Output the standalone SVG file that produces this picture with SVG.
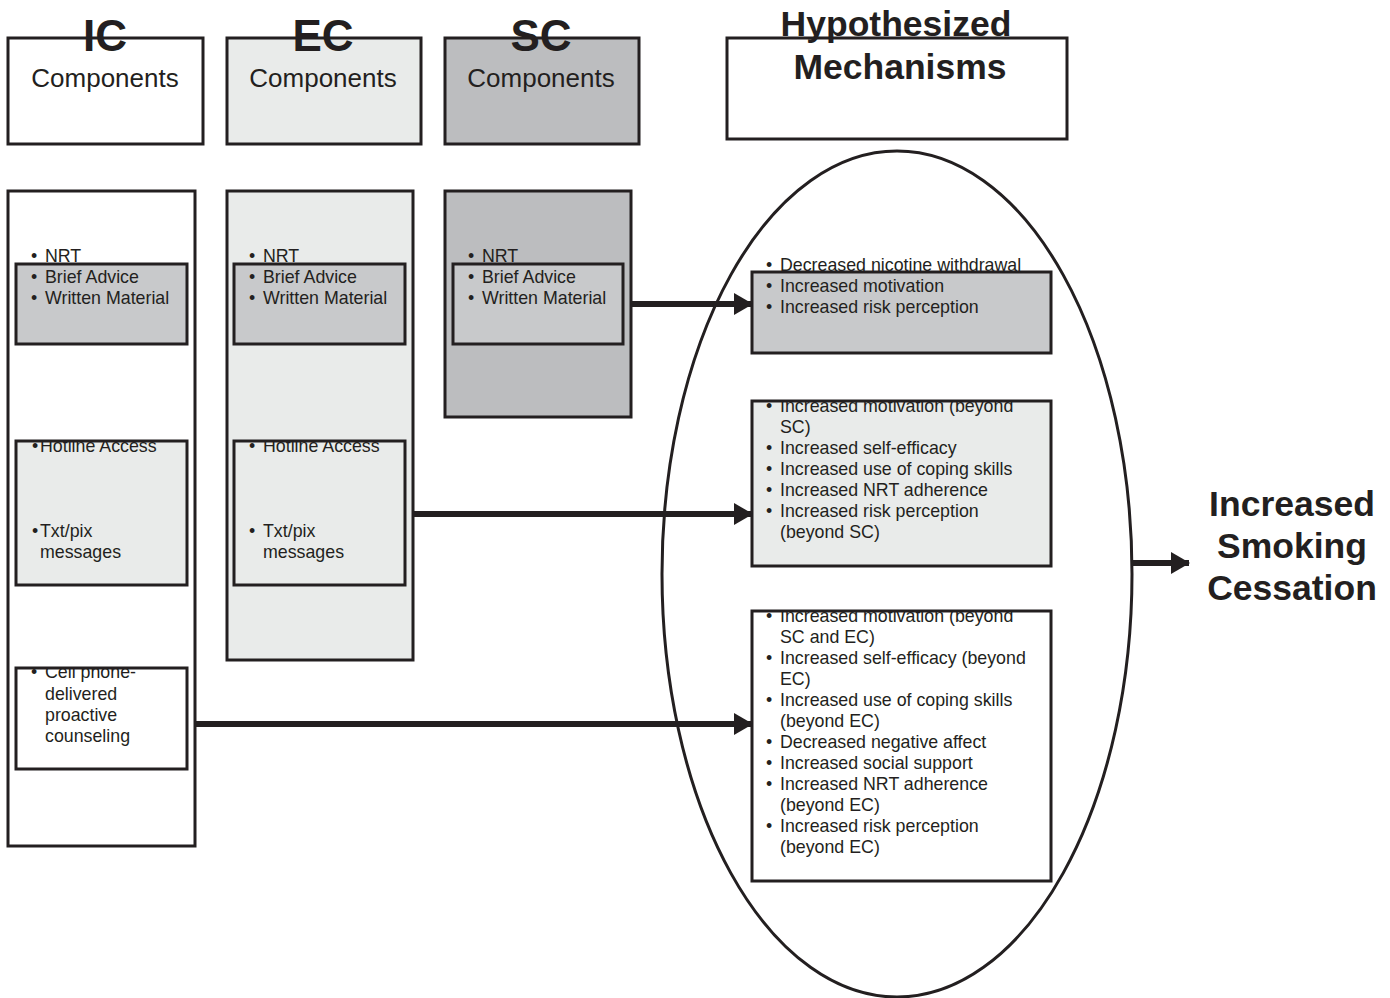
<svg xmlns="http://www.w3.org/2000/svg" width="1390" height="998" viewBox="0 0 1390 998">
<style>
.box{stroke:#231f20;stroke-width:3}
.w{fill:#ffffff}.l{fill:#e9ebea}.g{fill:#bcbdbf}.m{fill:#c8c9cb}
text{font-family:"Liberation Sans",Arial,sans-serif;fill:#231f20}
.t{font-size:17.8px}
.h{font-size:44px;font-weight:bold;text-anchor:middle}
.c{font-size:26px;text-anchor:middle}
.b{font-size:35.5px;font-weight:bold;text-anchor:middle}
.ar{stroke:#231f20;stroke-width:6;fill:none}
</style>
<defs>
<marker id="ah" markerUnits="userSpaceOnUse" markerWidth="20" markerHeight="24" refX="18" refY="12" orient="auto">
<path d="M0,1 L19,12 L0,23 Z" fill="#231f20"/>
</marker>
<clipPath id="cICh"><rect x="16" y="442" width="171" height="143"/></clipPath>
<clipPath id="cECh"><rect x="234" y="442" width="171" height="143"/></clipPath>
<clipPath id="cICc"><rect x="16" y="669" width="171" height="100"/></clipPath>
<clipPath id="cM2"><rect x="752" y="402" width="299" height="164"/></clipPath>
<clipPath id="cM3"><rect x="752" y="612" width="299" height="269"/></clipPath>
</defs>

<g id="header-ic">
<rect class="box w" x="8" y="38" width="195" height="106"/>
<text class="h" x="105" y="51">IC</text>
<text class="c" x="105" y="87">Components</text>
</g>
<g id="header-ec">
<rect class="box l" x="227" y="38" width="194" height="106"/>
<text class="h" x="323" y="51">EC</text>
<text class="c" x="323" y="87">Components</text>
</g>
<g id="header-sc">
<rect class="box g" x="445" y="38" width="194" height="106"/>
<text class="h" x="541" y="51">SC</text>
<text class="c" x="541" y="87">Components</text>
</g>
<g id="header-mech">
<rect class="box w" x="727" y="38" width="340" height="101"/>
<text class="b" x="896" y="36">Hypothesized</text>
<text class="b" x="900" y="79">Mechanisms</text>
</g>

<g id="col-ic">
<rect class="box w" x="8" y="191" width="187" height="655"/>
</g>
<g id="col-ec">
<rect class="box l" x="227" y="191" width="186" height="469"/>
</g>
<g id="col-sc">
<rect class="box g" x="445" y="191" width="186" height="226"/>
</g>

<g id="ic-basic">
<rect class="m" x="16" y="264" width="171" height="80"/>
<text class="t" x="31" y="262">•</text><text class="t" x="45" y="262">NRT</text>
<text class="t" x="31" y="283">•</text><text class="t" x="45" y="283">Brief Advice</text>
<text class="t" x="31" y="304">•</text><text class="t" x="45" y="304">Written Material</text>
<rect class="box" fill="none" x="16" y="264" width="171" height="80"/>
</g>
<g id="ec-basic">
<rect class="m" x="234" y="264" width="171" height="80"/>
<text class="t" x="249" y="262">•</text><text class="t" x="263" y="262">NRT</text>
<text class="t" x="249" y="283">•</text><text class="t" x="263" y="283">Brief Advice</text>
<text class="t" x="249" y="304">•</text><text class="t" x="263" y="304">Written Material</text>
<rect class="box" fill="none" x="234" y="264" width="171" height="80"/>
</g>
<g id="sc-basic">
<rect class="m" x="453" y="264" width="170" height="80"/>
<text class="t" x="468" y="262">•</text><text class="t" x="482" y="262">NRT</text>
<text class="t" x="468" y="283">•</text><text class="t" x="482" y="283">Brief Advice</text>
<text class="t" x="468" y="304">•</text><text class="t" x="482" y="304">Written Material</text>
<rect class="box" fill="none" x="453" y="264" width="170" height="80"/>
</g>

<g id="ic-hotline">
<rect class="l" x="16" y="441" width="171" height="144"/>
<g clip-path="url(#cICh)">
<text class="t" x="32" y="452">•</text><text class="t" x="40" y="452">Hotline Access</text>
</g>
<text class="t" x="32" y="537">•</text><text class="t" x="40" y="537">Txt/pix</text>
<text class="t" x="40" y="558">messages</text>
<rect class="box" fill="none" x="16" y="441" width="171" height="144"/>
</g>
<g id="ec-hotline">
<rect class="l" x="234" y="441" width="171" height="144"/>
<g clip-path="url(#cECh)">
<text class="t" x="249" y="452">•</text><text class="t" x="263" y="452">Hotline Access</text>
</g>
<text class="t" x="249" y="537">•</text><text class="t" x="263" y="537">Txt/pix</text>
<text class="t" x="263" y="558">messages</text>
<rect class="box" fill="none" x="234" y="441" width="171" height="144"/>
</g>
<g id="ic-counsel">
<rect class="w" x="16" y="668" width="171" height="101"/>
<g clip-path="url(#cICc)">
<text class="t" x="31" y="678">•</text><text class="t" x="45" y="678">Cell phone-</text>
</g>
<text class="t" x="45" y="700">delivered</text>
<text class="t" x="45" y="721">proactive</text>
<text class="t" x="45" y="742">counseling</text>
<rect class="box" fill="none" x="16" y="668" width="171" height="101"/>
</g>

<g id="mech-ellipse">
<ellipse cx="897" cy="574" rx="235" ry="423" fill="none" stroke="#231f20" stroke-width="3"/>
</g>

<g id="mech-sc">
<rect class="m" x="752" y="272" width="299" height="81"/>
<text class="t" x="766" y="271">•</text><text class="t" x="780" y="271">Decreased nicotine withdrawal</text>
<text class="t" x="766" y="292">•</text><text class="t" x="780" y="292">Increased motivation</text>
<text class="t" x="766" y="313">•</text><text class="t" x="780" y="313">Increased risk perception</text>
<rect class="box" fill="none" x="752" y="272" width="299" height="81"/>
</g>
<g id="mech-ec">
<rect class="l" x="752" y="401" width="299" height="165"/>
<g clip-path="url(#cM2)">
<text class="t" x="766" y="412">•</text><text class="t" x="780" y="412">Increased motivation (beyond</text>
</g>
<text class="t" x="780" y="433">SC)</text>
<text class="t" x="766" y="454">•</text><text class="t" x="780" y="454">Increased self-efficacy</text>
<text class="t" x="766" y="475">•</text><text class="t" x="780" y="475">Increased use of coping skills</text>
<text class="t" x="766" y="496">•</text><text class="t" x="780" y="496">Increased NRT adherence</text>
<text class="t" x="766" y="517">•</text><text class="t" x="780" y="517">Increased risk perception</text>
<text class="t" x="780" y="538">(beyond SC)</text>
<rect class="box" fill="none" x="752" y="401" width="299" height="165"/>
</g>
<g id="mech-ic">
<rect class="w" x="752" y="611" width="299" height="270"/>
<g clip-path="url(#cM3)">
<text class="t" x="766" y="622">•</text><text class="t" x="780" y="622">Increased motivation (beyond</text>
</g>
<text class="t" x="780" y="643">SC and EC)</text>
<text class="t" x="766" y="664">•</text><text class="t" x="780" y="664">Increased self-efficacy (beyond</text>
<text class="t" x="780" y="685">EC)</text>
<text class="t" x="766" y="706">•</text><text class="t" x="780" y="706">Increased use of coping skills</text>
<text class="t" x="780" y="727">(beyond EC)</text>
<text class="t" x="766" y="748">•</text><text class="t" x="780" y="748">Decreased negative affect</text>
<text class="t" x="766" y="769">•</text><text class="t" x="780" y="769">Increased social support</text>
<text class="t" x="766" y="790">•</text><text class="t" x="780" y="790">Increased NRT adherence</text>
<text class="t" x="780" y="811">(beyond EC)</text>
<text class="t" x="766" y="832">•</text><text class="t" x="780" y="832">Increased risk perception</text>
<text class="t" x="780" y="853">(beyond EC)</text>
<rect class="box" fill="none" x="752" y="611" width="299" height="270"/>
</g>

<g id="outcome">
<text class="b" x="1292" y="516">Increased</text>
<text class="b" x="1292" y="558">Smoking</text>
<text class="b" x="1292" y="600">Cessation</text>
</g>

<g id="connectors">
<line class="ar" x1="632" y1="304" x2="752" y2="304" marker-end="url(#ah)"/>
<line class="ar" x1="414" y1="514" x2="752" y2="514" marker-end="url(#ah)"/>
<line class="ar" x1="196" y1="724" x2="752" y2="724" marker-end="url(#ah)"/>
<line class="ar" x1="1133" y1="563" x2="1189" y2="563" marker-end="url(#ah)"/>
</g>
</svg>
